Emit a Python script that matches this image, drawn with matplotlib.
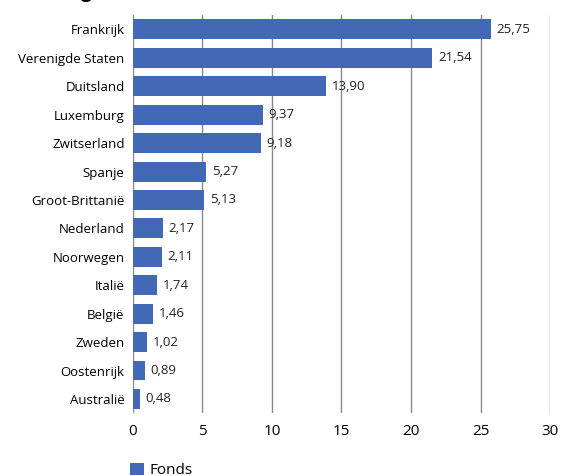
import matplotlib
matplotlib.use('Agg')
import matplotlib.pyplot as plt

landen = ['Frankrijk', 'Verenigde Staten', 'Duitsland', 'Luxemburg', 'Zwitserland',
          'Spanje', 'Groot-Brittanië', 'Nederland', 'Noorwegen', 'Italië',
          'België', 'Zweden', 'Oostenrijk', 'Australië']
fonds = [25.75, 21.54, 13.90, 9.37, 9.18, 5.27, 5.13, 2.17, 2.11, 1.74,
         1.46, 1.02, 0.89, 0.48]
xticks = [0, 5, 10, 15, 20, 25, 30]

plt.rcParams['font.family'] = ['Open Sans', 'DejaVu Sans']

fig = plt.figure(figsize=(5.63, 4.76), dpi=100)
ax = fig.add_axes([0.236, 0.132, 0.741, 0.836])

y = list(range(len(landen)))
ax.barh(y, fonds, height=0.7, color='#4369B6', label='Fonds', zorder=3)
for yi, v in zip(y, fonds):
    ax.text(v + 0.4, yi, f'{v:.2f}'.replace('.', ','), va='center', ha='left',
            fontsize=9.5, color='#222222')

ax.set_ylim(len(landen) - 0.5, -0.5)
ax.set_xlim(0, 30)
ax.set_xticks(xticks)
ax.set_yticks(y)
ax.set_yticklabels(landen, fontsize=9.5)
ax.tick_params(axis='x', labelsize=11, length=0, pad=8)
ax.tick_params(axis='y', length=0, pad=6)
ax.grid(axis='x', color='#888888', linewidth=1, zorder=0)
for s in ax.spines.values():
    s.set_visible(False)

ax.legend(loc='upper left', bbox_to_anchor=(-0.04, -0.09), frameon=False,
          fontsize=11, handlelength=0.9, handleheight=0.9, handletextpad=0.4)

# title sits mostly above the crop, as in the reference
fig.text(0.0, 1.016, 'Verdeling (%)', fontsize=14, fontweight='bold', va='center')

fig.savefig('out.png', dpi=100)
